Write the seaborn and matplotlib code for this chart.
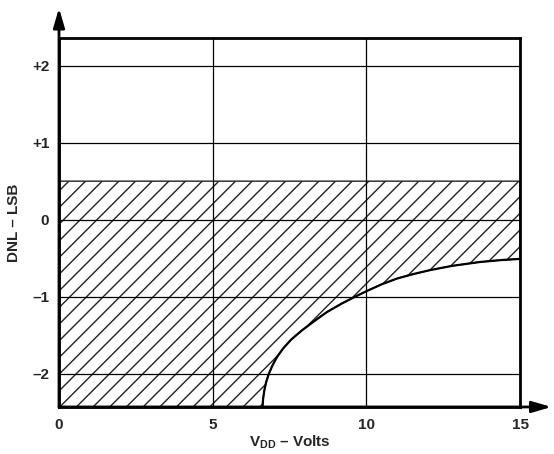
import numpy as np
import matplotlib
matplotlib.use("Agg")
import matplotlib.pyplot as plt
import seaborn as sns

# DNL limit curve vs supply voltage
vdd = [6.62, 6.64, 6.68, 6.74, 6.83, 6.95, 7.1, 7.3, 7.55, 7.9, 8.3, 8.72,
       9.2, 9.64, 10.0, 10.5, 11.0, 11.5, 12.08, 12.8, 13.7, 14.4, 15.0]
dnl = [-2.434, -2.33, -2.22, -2.11, -2.00, -1.89, -1.78, -1.67, -1.56, -1.44,
       -1.32, -1.20, -1.09, -1.00, -0.93, -0.84, -0.765, -0.71, -0.655, -0.60,
       -0.55, -0.525, -0.51]

band_top = 0.5
x_ticks = [0, 5, 10, 15]
x_tick_labels = ["0", "5", "10", "15"]
y_ticks = [-2, -1, 0, 1, 2]
y_tick_labels = ["\u20132", "\u20131", "0", "+1", "+2"]
x_lim = (0, 15)
y_lim = (-2.434, 2.356)

sns.set_style("white")
plt.rcParams["font.family"] = ["Liberation Sans", "DejaVu Sans"]
plt.rcParams["font.weight"] = "bold"
plt.rcParams["mathtext.fontset"] = "custom"
plt.rcParams["mathtext.rm"] = "Liberation Sans:bold"
plt.rcParams["mathtext.bf"] = "Liberation Sans:bold"
plt.rcParams["hatch.linewidth"] = 1.0

fig = plt.figure(figsize=(5.54, 4.54), dpi=100)
ax = fig.add_axes([0.1065, 0.1036, 0.8322, 0.8120])

# hatched region between the curve (or bottom) and +0.5 LSB
fill_x = [x_lim[0]] + vdd
fill_low = [y_lim[0]] + dnl
ax.fill_between(fill_x, fill_low, band_top, facecolor="none", edgecolor="#222222",
                hatch="//", linewidth=1.0, zorder=1)

sns.lineplot(x=vdd, y=dnl, color="black", linewidth=1.6, ax=ax, zorder=3)

ax.set_xlim(*x_lim)
ax.set_ylim(*y_lim)
ax.set_xticks(x_ticks)
ax.set_xticklabels(x_tick_labels)
ax.set_yticks(y_ticks)
ax.set_yticklabels(y_tick_labels)
ax.tick_params(axis="both", length=0, labelsize=11)
ax.tick_params(axis="x", pad=8)
ax.tick_params(axis="y", pad=7)
ax.grid(True, color="black", linewidth=0.9)
ax.set_axisbelow(False)

for s in ax.spines.values():
    s.set_visible(True)
    s.set_color("black")
    s.set_linewidth(2.0)

ax.set_xlabel("V$_{\\mathrm{DD}}$ \u2013 Volts", fontsize=11, fontweight="bold",
              labelpad=1)
ax.set_ylabel("DNL \u2013 LSB", fontsize=11, fontweight="bold", labelpad=8)

# axis arrows
arrow = dict(arrowstyle="-|>,head_length=0.58,head_width=0.17", color="black",
             lw=2.0, mutation_scale=20, shrinkA=0, shrinkB=0)
ax.annotate("", xy=(0, 1.082), xytext=(0, 0), xycoords="axes fraction",
            arrowprops=arrow)
ax.annotate("", xy=(1.068, 0), xytext=(0, 0), xycoords="axes fraction",
            arrowprops=arrow)

plt.savefig("out.png", dpi=100)
